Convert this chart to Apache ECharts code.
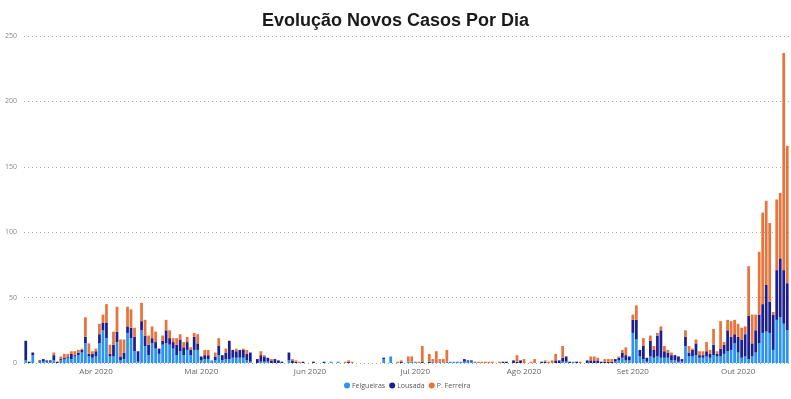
<!DOCTYPE html>
<html>
<head>
<meta charset="utf-8">
<script src="https://cdn.jsdelivr.net/npm/echarts@6/dist/echarts.min.js"></script>
<style>
  html, body { margin: 0; padding: 0; background: #fff; }
  #chart { width: 791px; height: 399px; }
</style>
</head>
<body>
<div id="chart"></div>
<script>
// daily categories: 12 Mar 2020 .. 15 Oct 2020
const startDate = '2020-03-12'
const dayCount = 218
const monthNames = ['Jan', 'Fev', 'Mar', 'Abr', 'Mai', 'Jun', 'Jul', 'Ago', 'Set', 'Out', 'Nov', 'Dez']
const yTicks = [0, 50, 100, 150, 200, 250]

const seriesNames = ['Felgueiras', 'Lousada', 'P. Ferreira']
const seriesColors = ['#2b93f2', '#1c1f8f', '#e8733b']

// Felgueiras
const felgueiras = [
  // Mar 12-31
  2, 0, 6, 0, 1, 1, 1, 1, 2, 0, 2, 3, 4, 3, 5, 6, 8, 15, 5, 4,
  // Abr
  5, 15, 25, 19, 5, 5, 16, 2, 3, 23, 19, 9, 1, 25, 13, 6, 15, 11, 7, 14,
  15, 14, 11, 6, 9, 6, 10, 6, 10, 10,
  // Mai
  2, 3, 3, 2, 2, 6, 2, 3, 3, 4, 4, 4, 4, 2, 1, 0, 0, 1, 1, 1,
  0, 0, 0, 0, 0, 2, 0, 0, 0, 0, 0,
  // Jun
  0, 0, 0, 0, 0, 0, 1, 0, 1, 0, 0, 0, 0, 0, 0, 0, 0, 0, 0, 0,
  0, 3, 0, 5, 0, 0, 0, 0, 1, 1,
  // Jul
  1, 0, 0, 0, 0, 1, 0, 1, 0, 1, 1, 1, 1, 1, 1, 1, 1, 1, 0, 0,
  0, 0, 0, 0, 0, 0, 0, 0, 0, 0, 0,
  // Ago
  0, 0, 0, 0, 0, 0, 0, 0, 0, 0, 0, 1, 1, 0, 1, 0, 0, 0, 0, 0,
  0, 0, 0, 0, 0, 0, 1, 2, 4, 2, 2,
  // Set
  23, 18, 5, 3, 1, 5, 4, 5, 4, 4, 4, 2, 2, 1, 1, 13, 5, 5, 6, 4,
  4, 5, 4, 6, 5, 5, 7, 9, 10, 15,
  // Out 1-15
  8, 4, 5, 3, 5, 8, 15, 23, 24, 23, 10, 33, 35, 30, 25
]

// Lousada
const lousada = [
  15, 1, 2, 0, 1, 2, 1, 1, 4, 1, 1, 1, 1, 4, 1, 2, 2, 5, 2, 3,
  4, 7, 6, 12, 2, 9, 8, 3, 5, 5, 8, 11, 8, 7, 8, 8, 4, 5, 4, 3,
  10, 5, 5, 8, 9, 6, 6, 4, 10, 5,
  3, 3, 3, 0, 3, 7, 4, 5, 14, 6, 5, 6, 6, 5, 7, 0, 3, 5, 4, 3,
  2, 3, 2, 1, 0, 6, 2, 1, 0, 1, 0,
  0, 1, 0, 0, 1, 0, 0, 0, 0, 0, 0, 1, 0, 0, 0, 0, 0, 0, 0, 0,
  0, 1, 0, 0, 0, 0, 1, 0, 0, 0,
  0, 0, 1, 0, 1, 0, 0, 0, 0, 0, 0, 0, 0, 0, 2, 1, 1, 0, 0, 0,
  0, 0, 0, 0, 0, 1, 1, 0, 2, 1, 2,
  0, 0, 0, 0, 0, 1, 1, 0, 0, 2, 2, 3, 4, 1, 0, 1, 0, 0, 2, 2,
  2, 2, 1, 1, 1, 1, 2, 2, 4, 4, 3,
  10, 15, 5, 10, 3, 12, 6, 16, 21, 5, 4, 4, 4, 4, 2, 7, 3, 5, 9, 2,
  2, 4, 3, 8, 2, 6, 7, 16, 10, 7,
  12, 14, 17, 33, 10, 17, 22, 22, 36, 24, 27, 38, 45, 41, 36
]

// P. Ferreira
const pFerreira = [
  0, 0, 0, 0, 0, 0, 0, 0, 2, 0, 2, 3, 2, 2, 3, 2, 1, 15, 8, 2,
  2, 8, 6, 14, 7, 10, 19, 13, 10, 15, 14, 7, 0, 14, 12, 7, 9, 8, 0, 4,
  8, 6, 3, 5, 4, 4, 4, 2, 3, 7,
  0, 4, 4, 0, 3, 6, 0, 3, 0, 0, 2, 0, 1, 3, 0, 0, 0, 3, 1, 0,
  1, 0, 0, 0, 0, 0, 1, 1, 1, 0, 0,
  0, 0, 0, 0, 0, 0, 0, 0, 0, 0, 1, 1, 1, 0, 0, 0, 0, 0, 0, 0,
  0, 0, 0, 0, 0, 1, 1, 0, 4, 4,
  0, 1, 12, 0, 6, 2, 9, 2, 3, 9, 0, 0, 0, 0, 0, 0, 0, 0, 1, 1,
  1, 1, 1, 0, 1, 0, 0, 0, 0, 5, 0,
  3, 0, 1, 3, 0, 0, 1, 1, 2, 5, 0, 9, 0, 0, 0, 0, 1, 0, 0, 3,
  3, 2, 0, 2, 2, 2, 0, 1, 2, 6, 0,
  4, 11, 0, 6, 0, 4, 3, 2, 3, 4, 2, 2, 0, 0, 0, 5, 5, 1, 3, 3,
  3, 7, 3, 12, 2, 21, 2, 8, 12, 11,
  10, 9, 6, 38, 22, 12, 48, 70, 64, 60, 2, 54, 50, 166, 105
]

const dates = []
const t0 = Date.parse(startDate + 'T00:00:00Z')
for (let i = 0; i < dayCount; i++) {
  dates.push(new Date(t0 + i * 86400000).toISOString().slice(0, 10))
}

const chart = echarts.init(document.getElementById('chart'))

chart.setOption({
  animation: false,
  title: {
    text: 'Evolução Novos Casos Por Dia',
    left: 'center',
    top: 7,
    textStyle: { fontSize: 18, fontWeight: 'bold', color: '#1a1a1a', fontFamily: 'Liberation Sans' },
  },
  legend: {
    bottom: 5,
    left: 339,
    icon: 'circle',
    itemWidth: 6,
    itemHeight: 6,
    itemGap: 4,
    textStyle: { fontSize: 7, color: '#555', fontFamily: 'Open Sans', padding: [0, 0, 0, -3] },
    data: seriesNames,
  },
  grid: { left: 24, right: 2, top: 36, bottom: 36 },
  xAxis: {
    type: 'category',
    data: dates,
    axisLine: { show: false },
    axisTick: { show: false },
    axisLabel: {
      interval: (idx, val) => val.slice(8, 10) === '01',
      formatter: (val) => monthNames[Number(val.slice(5, 7)) - 1] + ' ' + val.slice(0, 4),
      fontSize: 8,
      color: '#666',
      margin: 5,
      fontFamily: 'Open Sans',
    },
  },
  yAxis: {
    type: 'value',
    min: yTicks[0],
    max: yTicks[yTicks.length - 1],
    interval: 50,
    axisLine: { show: false },
    axisTick: { show: false },
    axisLabel: { fontSize: 7, color: '#888', margin: 7, fontFamily: 'Open Sans' },
    splitLine: { lineStyle: { type: [1, 3], color: '#aaa', width: 1 } },
  },
  series: [felgueiras, lousada, pFerreira].map((vals, k) => ({
    name: seriesNames[k],
    type: 'bar',
    stack: 'total',
    data: vals,
    barCategoryGap: '22%',
    itemStyle: { color: seriesColors[k] },
  })),
})
</script>
</body>
</html>
